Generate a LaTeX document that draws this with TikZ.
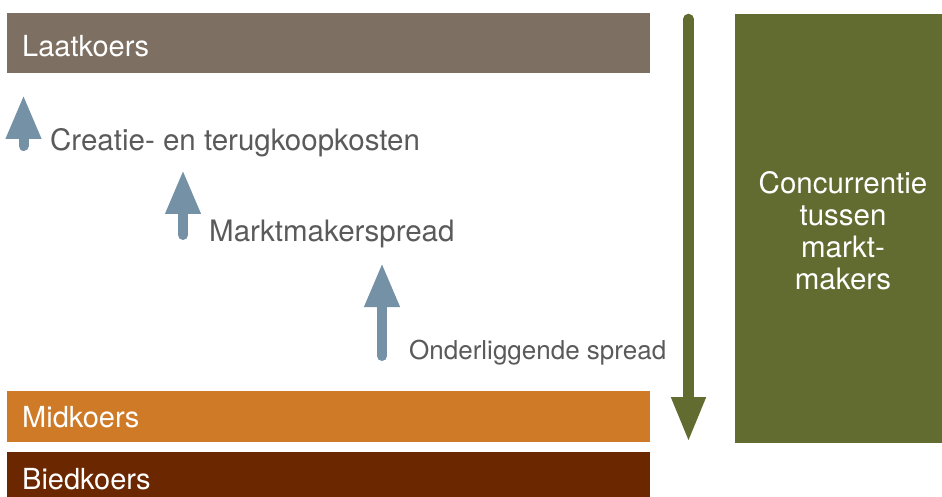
\documentclass[tikz,border=0pt]{standalone}
\usepackage{fontspec}
\setmainfont{TeX Gyre Heros}
\usetikzlibrary{arrows.meta}
\definecolor{laat}{HTML}{7D6F62}
\definecolor{mid}{HTML}{CF7A27}
\definecolor{bied}{HTML}{6B2800}
\definecolor{olive}{HTML}{626B30}
\definecolor{steel}{HTML}{7591A6}
\definecolor{txt}{HTML}{5A5A5A}
\tikzset{
  bar/.style={fill=#1, draw=none},
  barlabel/.style={anchor=west, text=white, font=\fontsize{29}{33}\selectfont, inner sep=0pt},
  lbl/.style={anchor=west, text=txt, font=\fontsize{29.5}{33}\selectfont, inner sep=0pt},
  uparrow/.style={draw=steel, line width=10pt, line cap=round, -{Triangle[length=44pt,width=33pt]}},
  downarrow/.style={draw=olive, line width=10.5pt, line cap=round, -{Triangle[length=45pt,width=32pt]}}
}
\begin{document}
\begin{tikzpicture}[x=1pt,y=-1pt]
\useasboundingbox (0,0) rectangle (942,497);
% bars
\fill[bar=laat] (7,13) rectangle (650,73);
\fill[bar=mid] (7,391) rectangle (650,442);
\fill[bar=bied] (7,452) rectangle (650,497);
\fill[bar=olive] (735,14) rectangle (942,443);
\node[barlabel] (laatk) at (22,46) {Laatkoers};
\node[barlabel] (midk) at (22,417) {Midkoers};
\node[barlabel] (biedk) at (22,479) {Biedkoers};
\node[text=white, font=\fontsize{29.5}{32}\selectfont, align=center, inner sep=0pt] (conc) at (843,231) {Concurrentie\\tussen\\markt-\\makers};
% labels
\node[lbl] (creatie) at (50,142.5) {Creatie- en terugkoopkosten};
\node[lbl] (markt) at (209,233.5) {Marktmakerspread};
\node[lbl, font=\fontsize{26}{30}\selectfont] (onder) at (409,352.5) {Onderliggende spread};
% arrows
\coordinate (a1s) at (23.5,146);
\coordinate (a1e) at (23.5,95);
\coordinate (a2s) at (183,235);
\coordinate (a2e) at (183,170);
\coordinate (a3s) at (382,356);
\coordinate (a3e) at (382,263);
\draw[uparrow] (a1s) -- (a1e);
\draw[uparrow] (a2s) -- (a2e);
\draw[uparrow] (a3s) -- (a3e);
\coordinate (gs) at (688.5,19);
\coordinate (ge) at (688.5,442);
\draw[downarrow] (gs) -- (ge);
\end{tikzpicture}
\end{document}
